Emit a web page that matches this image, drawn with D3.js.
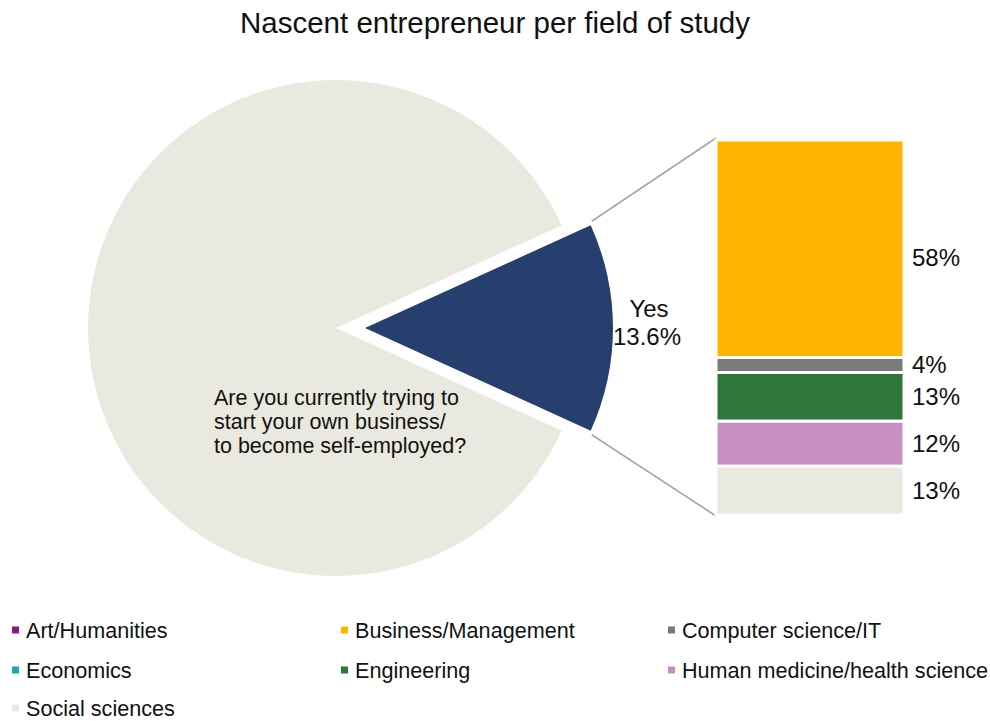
<!DOCTYPE html>
<html>
<head>
<meta charset="utf-8">
<script src="https://cdn.jsdelivr.net/npm/d3@7"></script>
<style>
  html, body { margin: 0; padding: 0; background: #fff; }
  svg { display: block; font-family: "Liberation Sans", Arial, Helvetica, sans-serif; }
</style>
</head>
<body>
<svg id="chart" width="990" height="721"></svg>
<script>
// Pie: share of respondents answering the question
const pieLabels = ["Yes", "No"];
const pieValues = [13.6, 86.4];
const pieColors = ["#273F6E", "#EAE9DF"];

// Bar: breakdown of "Yes" by field of study (top to bottom)
const barFields = ["Business/Management", "Computer science/IT", "Engineering", "Human medicine/health science", "Social sciences"];
const barValues = [58, 4, 13, 12, 13];

// Legend entries
const legendFields = ["Art/Humanities", "Business/Management", "Computer science/IT", "Economics", "Engineering", "Human medicine/health science", "Social sciences"];
const legendColors = ["#8B1C7C", "#FFB500", "#7A7A7A", "#1AAAA9", "#2E773A", "#C690C2", "#EAE9DF"];

const titleText = "Nascent entrepreneur per field of study";
const questionLines = ["Are you currently trying to", "start your own business/", "to become self-employed?"];

const colorOf = d3.scaleOrdinal().domain(legendFields).range(legendColors);
const svg = d3.select("#chart");

// Title
svg.append("text")
  .attr("x", 495).attr("y", 33)
  .attr("text-anchor", "middle")
  .attr("font-size", 29.5)
  .attr("fill", "#111")
  .text(titleText);

// ---- Pie ----
const cx = 336, cy = 328, R = 248, explode = 29;
const total = d3.sum(pieValues);
const yesSpan = 2 * Math.PI * pieValues[0] / total;
const start = Math.PI / 2 - yesSpan / 2;
const pie = d3.pie().sort(null).value(d => d).startAngle(start).endAngle(start + 2 * Math.PI);
const arcs = pie(pieValues);
const arc = d3.arc().innerRadius(0).outerRadius(R);

const pieG = svg.append("g").attr("transform", `translate(${cx},${cy})`);
arcs.forEach((a, i) => {
  const mid = (a.startAngle + a.endAngle) / 2;
  const off = i === 0 ? explode : 0;
  const dx = off * Math.sin(mid), dy = -off * Math.cos(mid);
  pieG.append("path")
    .attr("d", arc(a))
    .attr("transform", `translate(${dx},${dy})`)
    .attr("fill", pieColors[i]);
});

// Yes label
const yesArc = arcs[0];
const yesMid = (yesArc.startAngle + yesArc.endAngle) / 2;
const yesOx = cx + explode * Math.sin(yesMid), yesOy = cy - explode * Math.cos(yesMid);
const yesLbl = svg.append("text")
  .attr("text-anchor", "middle")
  .attr("font-size", 24)
  .attr("fill", "#111");
yesLbl.append("tspan").attr("x", 649).attr("y", 317).text(pieLabels[0]);
yesLbl.append("tspan").attr("x", 647).attr("y", 345).text(d3.format(".1f")(pieValues[0]) + "%");

// Question text on the large slice
const q = svg.append("text").attr("font-size", 21.5).attr("fill", "#111");
questionLines.forEach((t, i) => {
  q.append("tspan").attr("x", 214).attr("y", 405 + i * 24).text(t);
});

// ---- Bar ----
const barX0 = 716, barX1 = 904;
const y = d3.scaleLinear().domain([0, d3.sum(barValues)]).range([140, 515]);
const stacked = [];
let acc = 0;
barValues.forEach((v, i) => { stacked.push({ field: barFields[i], v, y0: acc, y1: acc + v }); acc += v; });

// Connector lines from slice corners to bar corners
const cornerA = [yesOx + R * Math.sin(yesArc.startAngle), yesOy - R * Math.cos(yesArc.startAngle)];
const cornerB = [yesOx + R * Math.sin(yesArc.endAngle), yesOy - R * Math.cos(yesArc.endAngle)];
svg.append("line")
  .attr("x1", cornerA[0] + 1).attr("y1", cornerA[1] - 4)
  .attr("x2", barX0).attr("y2", y(0) - 2)
  .attr("stroke", "#A6A6A6").attr("stroke-width", 1.6);
svg.append("line")
  .attr("x1", cornerB[0] + 1).attr("y1", cornerB[1] + 4)
  .attr("x2", barX0).attr("y2", y(acc) + 1)
  .attr("stroke", "#A6A6A6").attr("stroke-width", 1.6);

svg.append("g").selectAll("rect")
  .data(stacked)
  .join("rect")
  .attr("x", barX0)
  .attr("width", barX1 - barX0)
  .attr("y", d => y(d.y0))
  .attr("height", d => y(d.y1) - y(d.y0))
  .attr("fill", d => colorOf(d.field))
  .attr("stroke", "#fff")
  .attr("stroke-width", 3);

svg.append("g").selectAll("text")
  .data(stacked)
  .join("text")
  .attr("x", 912)
  .attr("y", d => (y(d.y0) + y(d.y1)) / 2 + (d.v > 30 ? 9 : 0))
  .attr("dy", "0.35em")
  .attr("font-size", 24)
  .attr("fill", "#111")
  .text(d => d.v + "%");

// ---- Legend ----
const colX = [12, 341, 668];
const rowY = [630, 670, 708];
const leg = svg.append("g").selectAll("g")
  .data(legendFields)
  .join("g")
  .attr("transform", (d, i) => `translate(${colX[i % 3]},${rowY[Math.floor(i / 3)]})`);
leg.append("rect")
  .attr("x", 0).attr("y", -3.5)
  .attr("width", 7).attr("height", 7)
  .attr("fill", d => colorOf(d));
leg.append("text")
  .attr("x", 14).attr("y", 0)
  .attr("dy", "0.35em")
  .attr("font-size", 21.6)
  .attr("fill", "#111")
  .text(d => d);
</script>
</body>
</html>
